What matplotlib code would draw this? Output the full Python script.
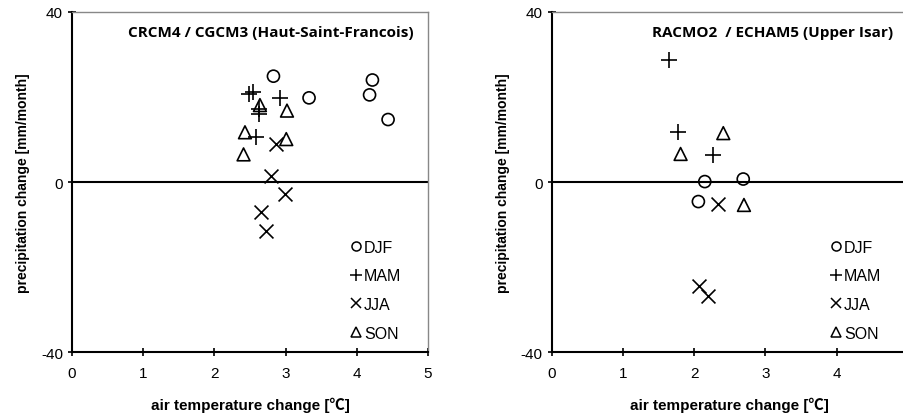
import numpy as np
import matplotlib
matplotlib.use("Agg")
import matplotlib.pyplot as plt
from matplotlib.lines import Line2D

plt.rcParams['font.family'] = ['Liberation Sans', 'DejaVu Sans']
plt.rcParams['axes.unicode_minus'] = False

# ---- data: (temperature change, precipitation change) per season ----
# left: CRCM4 / CGCM3 (Haut-Saint-Francois)
hsf_djf_t = [2.83, 3.33, 4.22, 4.18, 4.44]
hsf_djf_p = [24.9, 19.8, 24.0, 20.5, 14.7]
hsf_mam_t = [2.49, 2.54, 2.92, 2.63, 2.63, 2.59]
hsf_mam_p = [20.7, 21.1, 19.8, 17.2, 16.0, 10.5]
hsf_jja_t = [2.87, 2.79, 2.99, 2.65, 2.72]
hsf_jja_p = [8.9, 1.5, -2.8, -7.1, -11.5]
hsf_son_t = [2.64, 3.02, 2.43, 3.01, 2.41]
hsf_son_p = [18.1, 16.8, 11.7, 10.1, 6.5]

# right: RACMO2 / ECHAM5 (Upper Isar)
isar_djf_t = [2.15, 2.69, 2.06]
isar_djf_p = [0.1, 0.7, -4.6]
isar_mam_t = [1.65, 1.77, 2.26]
isar_mam_p = [28.8, 11.8, 6.3]
isar_jja_t = [2.33, 2.07, 2.19]
isar_jja_p = [-5.2, -24.5, -26.9]
isar_son_t = [2.41, 1.81, 2.70]
isar_son_p = [11.5, 6.6, -5.4]

seasons = ["DJF", "MAM", "JJA", "SON"]
markers = ["o", "+", "x", "^"]
sizes = [75, 140, 100, 85]
leg_sizes = [6.5, 8, 6.5, 6.5]

fig = plt.figure(figsize=(9.04, 4.14), dpi=100)
ax1 = fig.add_axes([0.0796, 0.1473, 0.3938, 0.8213])
ax2 = fig.add_axes([0.6103, 0.1473, 0.3938, 0.8213])


def draw(ax, data, title, xticks):
    for (t, p), mk, s, lab in zip(data, markers, sizes, seasons):
        if mk in ("+", "x"):
            ax.scatter(t, p, marker=mk, s=s, c="black", linewidths=1.2,
                       zorder=3)
        else:
            ax.scatter(t, p, marker=mk, s=s, facecolors="none",
                       edgecolors="black", linewidths=1.2, zorder=3)
    ax.axhline(0, color="black", lw=1.5, zorder=2)
    ax.set_xlim(0, 5)
    ax.set_ylim(-40, 40)
    ax.set_xticks(xticks)
    ax.set_yticks([-40, 0, 40])
    ax.tick_params(direction="inout", length=6, width=1.2, labelsize=11)
    ax.tick_params(axis="x", pad=7)
    for side in ("left", "bottom"):
        ax.spines[side].set_color("black")
        ax.spines[side].set_linewidth(1.5)
    for side in ("top", "right"):
        ax.spines[side].set_color("#888888")
        ax.spines[side].set_linewidth(1.0)
    ax.set_xlabel("air temperature change [\u2103]", fontsize=11,
                  fontweight="bold", labelpad=12,
                  family=["Liberation Sans", "Noto Sans CJK SC", "DejaVu Sans"])
    ax.set_ylabel("precipitation change [mm/month]", fontsize=10,
                  fontweight="bold", labelpad=8)
    ax.text(0.96, 0.94, title, transform=ax.transAxes, ha="right",
            va="center", fontsize=11, fontweight="bold",
            family=["Open Sans", "DejaVu Sans"])
    handles = [Line2D([], [], ls="none", marker=mk, ms=ms, mfc="none",
                      mec="black", mew=1.1, label=lab)
               for mk, ms, lab in zip(markers, leg_sizes, seasons)]
    ax.legend(handles=handles, loc="upper left", bbox_to_anchor=(0.785, 0.33),
              frameon=False, handlelength=0.6, handletextpad=0.2,
              labelspacing=0.85, fontsize=11.5, borderpad=0, borderaxespad=0)


draw(ax1, [(hsf_djf_t, hsf_djf_p), (hsf_mam_t, hsf_mam_p),
           (hsf_jja_t, hsf_jja_p), (hsf_son_t, hsf_son_p)],
     "CRCM4 / CGCM3 (Haut-Saint-Francois)", [0, 1, 2, 3, 4, 5])
draw(ax2, [(isar_djf_t, isar_djf_p), (isar_mam_t, isar_mam_p),
           (isar_jja_t, isar_jja_p), (isar_son_t, isar_son_p)],
     "RACMO2  / ECHAM5 (Upper Isar)", [0, 1, 2, 3, 4])

fig.savefig("out.png", dpi=100)
